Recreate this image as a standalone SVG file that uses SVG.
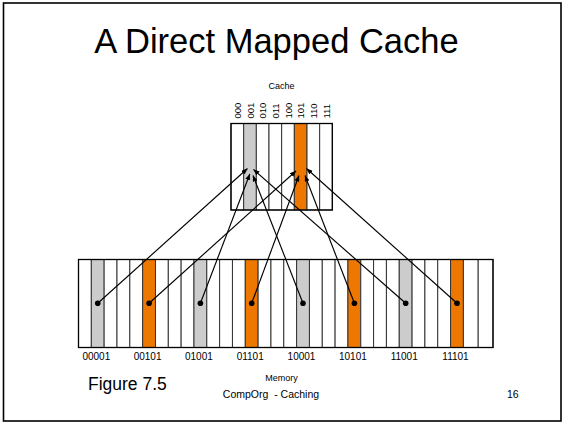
<svg xmlns="http://www.w3.org/2000/svg" width="564" height="424" viewBox="0 0 564 424">
  <defs>
    <style>
      text { font-family: "Liberation Sans", Arial, sans-serif; fill: #000; }
      .title { font-size: 34.5px; text-anchor: middle; }
      .small { font-size: 9px; text-anchor: middle; }
      .addr { font-size: 10px; text-anchor: middle; }
      .idx { font-size: 9.5px; }
      .foot { font-size: 10.5px; text-anchor: middle; white-space: pre; }
      .cell { fill: #fff; stroke: #333; stroke-width: 1; }
      .gray { fill: #cccccc; stroke: #333; stroke-width: 1; }
      .orange { fill: #ee7700; stroke: #333; stroke-width: 1; }
      .box { fill: none; stroke: #000; stroke-width: 1.3; }
      .link { stroke: #000; stroke-width: 1.15; fill: none; marker-end: url(#tip); }
      .dot { fill: #000; }
    </style>
    <marker id="tip" viewBox="0 0 6 5" refX="6" refY="2.5" markerWidth="6" markerHeight="5" markerUnits="userSpaceOnUse" orient="auto">
      <path d="M0,0 L6,2.5 L0,5 z" fill="#000"/>
    </marker>
  </defs>

  <!-- slide frame -->
  <rect x="3.5" y="3" width="557.5" height="418" fill="#fff" stroke="#000" stroke-width="1.6"/>

  <text class="title" x="276.5" y="52.5">A Direct Mapped Cache</text>

  <!-- cache: 8 lines -->
  <g id="cache">
    <text class="small" x="281.5" y="89">Cache</text>
    <rect class="cell" x="231" y="123.5" width="12.67" height="86.5"/>
    <rect class="gray" x="243.67" y="123.5" width="12.67" height="86.5"/>
    <rect class="cell" x="256.33" y="123.5" width="12.67" height="86.5"/>
    <rect class="cell" x="269" y="123.5" width="12.67" height="86.5"/>
    <rect class="cell" x="281.67" y="123.5" width="12.67" height="86.5"/>
    <rect class="orange" x="294.33" y="123.5" width="12.67" height="86.5"/>
    <rect class="cell" x="307" y="123.5" width="12.67" height="86.5"/>
    <rect class="cell" x="319.67" y="123.5" width="12.67" height="86.5"/>
    <rect class="box" x="231" y="123.5" width="101.33" height="86.5"/>
    <text class="idx" transform="translate(240.8,118.5) rotate(-90)">000</text>
    <text class="idx" transform="translate(253.5,118.5) rotate(-90)">001</text>
    <text class="idx" transform="translate(266.1,118.5) rotate(-90)">010</text>
    <text class="idx" transform="translate(278.8,118.5) rotate(-90)">011</text>
    <text class="idx" transform="translate(291.5,118.5) rotate(-90)">100</text>
    <text class="idx" transform="translate(304.1,118.5) rotate(-90)">101</text>
    <text class="idx" transform="translate(316.8,118.5) rotate(-90)">110</text>
    <text class="idx" transform="translate(329.5,118.5) rotate(-90)">111</text>
  </g>

  <!-- memory: 32 blocks -->
  <g id="memory">
    <rect class="cell" x="78.5" y="259.5" width="12.83" height="88"/>
    <rect class="gray" x="91.33" y="259.5" width="12.83" height="88"/>
    <rect class="cell" x="104.16" y="259.5" width="12.83" height="88"/>
    <rect class="cell" x="116.99" y="259.5" width="12.83" height="88"/>
    <rect class="cell" x="129.82" y="259.5" width="12.83" height="88"/>
    <rect class="orange" x="142.65" y="259.5" width="12.83" height="88"/>
    <rect class="cell" x="155.48" y="259.5" width="12.83" height="88"/>
    <rect class="cell" x="168.31" y="259.5" width="12.83" height="88"/>
    <rect class="cell" x="181.14" y="259.5" width="12.83" height="88"/>
    <rect class="gray" x="193.97" y="259.5" width="12.83" height="88"/>
    <rect class="cell" x="206.8" y="259.5" width="12.83" height="88"/>
    <rect class="cell" x="219.63" y="259.5" width="12.83" height="88"/>
    <rect class="cell" x="232.46" y="259.5" width="12.83" height="88"/>
    <rect class="orange" x="245.29" y="259.5" width="12.83" height="88"/>
    <rect class="cell" x="258.12" y="259.5" width="12.83" height="88"/>
    <rect class="cell" x="270.95" y="259.5" width="12.83" height="88"/>
    <rect class="cell" x="283.78" y="259.5" width="12.83" height="88"/>
    <rect class="gray" x="296.61" y="259.5" width="12.83" height="88"/>
    <rect class="cell" x="309.44" y="259.5" width="12.83" height="88"/>
    <rect class="cell" x="322.27" y="259.5" width="12.83" height="88"/>
    <rect class="cell" x="335.1" y="259.5" width="12.83" height="88"/>
    <rect class="orange" x="347.93" y="259.5" width="12.83" height="88"/>
    <rect class="cell" x="360.76" y="259.5" width="12.83" height="88"/>
    <rect class="cell" x="373.59" y="259.5" width="12.83" height="88"/>
    <rect class="cell" x="386.42" y="259.5" width="12.83" height="88"/>
    <rect class="gray" x="399.25" y="259.5" width="12.83" height="88"/>
    <rect class="cell" x="412.08" y="259.5" width="12.83" height="88"/>
    <rect class="cell" x="424.91" y="259.5" width="12.83" height="88"/>
    <rect class="cell" x="437.74" y="259.5" width="12.83" height="88"/>
    <rect class="orange" x="450.57" y="259.5" width="12.83" height="88"/>
    <rect class="cell" x="463.4" y="259.5" width="14.8" height="88"/>
    <rect class="cell" x="478.2" y="259.5" width="14.8" height="88"/>
    <rect class="box" x="78.5" y="259.5" width="414.5" height="88"/>
    <text class="addr" x="96.3" y="359.5">00001</text>
    <text class="addr" x="147.6" y="359.5">00101</text>
    <text class="addr" x="198.9" y="359.5">01001</text>
    <text class="addr" x="250.2" y="359.5">01101</text>
    <text class="addr" x="301.5" y="359.5">10001</text>
    <text class="addr" x="352.9" y="359.5">10101</text>
    <text class="addr" x="404.2" y="359.5">11001</text>
    <text class="addr" x="455.5" y="359.5">11101</text>
    <text class="small" x="281.5" y="381">Memory</text>
  </g>

  <!-- block-to-line mappings -->
  <g id="connectors">
    <line class="link" x1="97.75" y1="303.3" x2="247.5" y2="168.5"/>
    <line class="link" x1="200.4" y1="303.3" x2="249.8" y2="174"/>
    <line class="link" x1="303" y1="303.3" x2="253" y2="175.5"/>
    <line class="link" x1="405.7" y1="303.3" x2="253.5" y2="169.5"/>
    <line class="link" x1="149.1" y1="303.3" x2="296" y2="171"/>
    <line class="link" x1="251.7" y1="303.3" x2="299" y2="175.5"/>
    <line class="link" x1="354.4" y1="303.3" x2="305" y2="175.5"/>
    <line class="link" x1="457" y1="303.3" x2="306.5" y2="168.5"/>
    <circle class="dot" cx="97.75" cy="303.3" r="2.8"/>
    <circle class="dot" cx="149.1" cy="303.3" r="2.8"/>
    <circle class="dot" cx="200.4" cy="303.3" r="2.8"/>
    <circle class="dot" cx="251.7" cy="303.3" r="2.8"/>
    <circle class="dot" cx="303" cy="303.3" r="2.8"/>
    <circle class="dot" cx="354.4" cy="303.3" r="2.8"/>
    <circle class="dot" cx="405.7" cy="303.3" r="2.8"/>
    <circle class="dot" cx="457" cy="303.3" r="2.8"/>
  </g>

  <!-- footer -->
  <text x="88" y="390" style="font-size:17.5px">Figure 7.5</text>
  <text class="foot" x="271" y="398">CompOrg  - Caching</text>
  <text x="507" y="398" style="font-size:10.5px">16</text>
</svg>
